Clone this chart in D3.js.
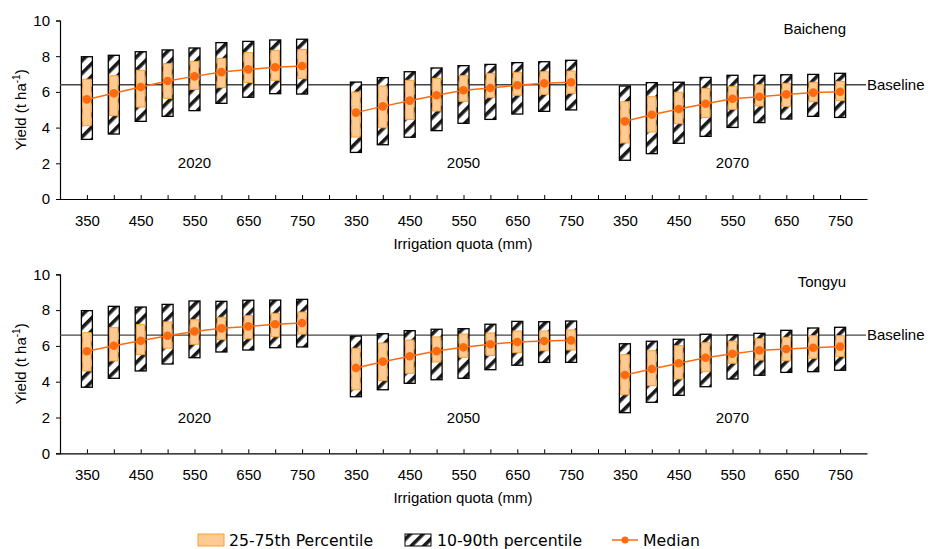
<!DOCTYPE html>
<html lang="en">
<head>
<meta charset="UTF-8">
<title>Yield vs irrigation quota</title>
<script src="https://cdn.jsdelivr.net/npm/d3@7/dist/d3.min.js"></script>
<style>
  body { margin: 0; background: #fff; }
  text { font-family: Arial, "Liberation Sans", sans-serif; fill: #000; }
  text.lg { font-family: "DejaVu Sans", Verdana, sans-serif; }
</style>
</head>
<body>
<svg id="main" width="928" height="549"></svg>
<script>
// categories
const levels = [350, 400, 450, 500, 550, 600, 650, 700, 750];
const years = ["2020", "2050", "2070"];

// Baicheng (3 groups x 9 levels)
const baichengP90 = [7.97,8.05,8.25,8.35,8.46,8.76,8.83,8.91,8.95, 6.55,6.80,7.13,7.34,7.47,7.54,7.64,7.69,7.77, 6.33,6.52,6.54,6.81,6.93,6.93,6.96,6.98,7.04];
const baichengP75 = [6.71,6.91,7.21,7.58,7.71,7.88,8.20,8.33,8.38, 5.99,6.33,6.65,6.76,6.91,7.04,7.10,7.13,7.17, 5.45,5.73,5.98,6.20,6.31,6.40,6.48,6.54,6.59];
const baichengMed = [5.58,5.92,6.27,6.61,6.87,7.11,7.26,7.38,7.45, 4.84,5.19,5.51,5.81,6.09,6.22,6.37,6.48,6.54, 4.35,4.72,5.04,5.34,5.62,5.73,5.86,5.96,6.01];
const baichengP25 = [4.11,4.67,5.15,5.64,6.14,6.24,6.52,6.65,6.74, 3.47,3.99,4.46,4.93,5.47,5.68,5.81,5.86,5.92, 3.14,3.75,4.22,4.57,5.02,5.21,5.19,5.45,5.51];
const baichengP10 = [3.34,3.64,4.35,4.63,4.95,5.36,5.70,5.90,5.88, 2.61,3.04,3.46,3.83,4.24,4.46,4.76,4.91,4.99, 2.17,2.54,3.12,3.51,4.01,4.28,4.48,4.63,4.57];
const baichengBaseline = 6.4;

// Tongyu
const tongyuP90 = [7.97,8.21,8.17,8.32,8.51,8.49,8.55,8.56,8.60, 6.55,6.68,6.85,6.93,6.96,7.21,7.37,7.35,7.39, 6.12,6.26,6.37,6.65,6.61,6.70,6.87,7.00,7.04];
const tongyuP75 = [6.74,7.02,7.19,7.34,7.46,7.60,7.69,7.82,7.89, 5.87,6.16,6.33,6.50,6.66,6.72,6.83,6.83,6.89, 5.51,5.73,6.01,6.18,6.27,6.40,6.48,6.57,6.57];
const tongyuMed = [5.70,6.01,6.29,6.57,6.81,6.98,7.09,7.21,7.28, 4.77,5.12,5.42,5.71,5.92,6.09,6.22,6.27,6.31, 4.37,4.71,5.03,5.34,5.56,5.75,5.83,5.90,5.96];
const tongyuP25 = [4.60,5.16,5.51,5.87,6.09,6.35,6.40,6.51,6.66, 3.55,4.06,4.47,5.10,5.36,5.47,5.62,5.73,5.77, 3.27,3.78,4.15,4.56,5.03,5.21,5.17,5.31,5.40];
const tongyuP10 = [3.69,4.19,4.60,4.99,5.34,5.66,5.77,5.90,5.94, 3.16,3.55,3.91,4.11,4.19,4.67,4.92,5.08,5.08, 2.27,2.85,3.24,3.72,4.15,4.36,4.52,4.56,4.64];
const tongyuBaseline = 6.6;

const yTicks = [0, 2, 4, 6, 8, 10];

const panels = [
  { site: "Baicheng", p10: baichengP10, p25: baichengP25, med: baichengMed, p75: baichengP75, p90: baichengP90, base: baichengBaseline, top: 20.5, bottom: 199 },
  { site: "Tongyu", p10: tongyuP10, p25: tongyuP25, med: tongyuMed, p75: tongyuP75, p90: tongyuP90, base: tongyuBaseline, top: 274.3, bottom: 453.3 }
];

const svg = d3.select("#main");
const orange = "#ff6a0e";

// hatch pattern
const defs = svg.append("defs");
defs.append("pattern")
  .attr("id", "hatch")
  .attr("patternUnits", "userSpaceOnUse")
  .attr("width", 9).attr("height", 9)
  .attr("patternTransform", "rotate(45)")
  .call(p => {
    p.append("rect").attr("width", 9).attr("height", 9).attr("fill", "#fff");
    p.append("rect").attr("x", 0).attr("width", 3.6).attr("height", 9).attr("fill", "#1a1a1a");
  });

// slot index: group g, level i -> g*10 + i + 1
const x = d3.scaleLinear().domain([0, 30]).range([60, 867]);
const slot = (g, i) => g * 10 + i + 1;
const allSlots = d3.range(1, 30);

panels.forEach(p => {
  const y = d3.scaleLinear().domain([0, 10]).range([p.bottom, p.top]);
  const g = svg.append("g");

  // y axis
  const ya = g.append("g")
    .attr("transform", `translate(${x(0)},0)`)
    .call(d3.axisLeft(y).tickValues(yTicks).tickSize(4).tickPadding(6));
  ya.select(".domain").attr("stroke", "#000").attr("stroke-width", 1.2);
  ya.selectAll("text").attr("font-size", 15);

  // x axis: ticks at every slot, labels every other level
  const xa = g.append("g")
    .attr("transform", `translate(0,${y(0)})`)
    .call(d3.axisBottom(x).tickValues(allSlots).tickSizeInner(-4).tickSizeOuter(0).tickPadding(16)
      .tickFormat(k => {
        const i = (k % 10) - 1;
        return (i >= 0 && i % 2 === 0) ? levels[i] : "";
      }));
  xa.select(".domain").attr("stroke", "#000").attr("stroke-width", 1.2);
  xa.selectAll("text").attr("font-size", 15);

  // axis titles
  g.append("text")
    .attr("x", 463).attr("y", y(0) + 50)
    .attr("text-anchor", "middle").attr("font-size", 15)
    .text("Irrigation quota (mm)");

  const yt = g.append("text")
    .attr("transform", `translate(26,${(p.top + p.bottom) / 2}) rotate(-90)`)
    .attr("text-anchor", "middle").attr("font-size", 15);
  yt.append("tspan").text("Yield (t ha");
  yt.append("tspan").attr("font-size", 10).attr("dy", -6).text("-1");
  yt.append("tspan").attr("dy", 6).text(")");

  // baseline
  g.append("line")
    .attr("x1", x(0)).attr("x2", x(30) - 1)
    .attr("y1", y(p.base)).attr("y2", y(p.base))
    .attr("stroke", "#444").attr("stroke-width", 1.3);
  g.append("text")
    .attr("x", 867).attr("y", y(p.base) + 5)
    .attr("font-size", 15).text("Baseline");

  // site label
  g.append("text")
    .attr("x", 846).attr("y", p.top + 13)
    .attr("text-anchor", "end").attr("font-size", 15)
    .text(p.site);

  // year labels
  years.forEach((yr, gi) => {
    g.append("text")
      .attr("x", x(slot(gi, 4))).attr("y", y(2) + 5)
      .attr("text-anchor", "middle").attr("font-size", 15)
      .text(yr);
  });

  const rows = [];
  years.forEach((yr, gi) => levels.forEach((lv, i) => {
    const j = gi * 9 + i;
    rows.push({ g: gi, k: slot(gi, i), p10: p.p10[j], p25: p.p25[j], med: p.med[j], p75: p.p75[j], p90: p.p90[j] });
  }));

  // 10-90 boxes
  g.selectAll(".outer").data(rows).join("rect")
    .attr("x", d => x(d.k) - 5.5).attr("width", 11)
    .attr("y", d => y(d.p90)).attr("height", d => y(d.p10) - y(d.p90))
    .attr("fill", "url(#hatch)").attr("stroke", "#000").attr("stroke-width", 1.3);

  // 25-75 boxes
  g.selectAll(".inner").data(rows).join("rect")
    .attr("x", d => x(d.k) - 4.2).attr("width", 8.4)
    .attr("y", d => y(d.p75)).attr("height", d => y(d.p25) - y(d.p75))
    .attr("fill", "#ffca94").attr("stroke", "#f7a134").attr("stroke-width", 1);

  // median lines per group
  const line = d3.line().x(d => x(d.k)).y(d => y(d.med));
  years.forEach((yr, gi) => {
    g.append("path")
      .datum(rows.filter(r => r.g === gi))
      .attr("d", line)
      .attr("fill", "none").attr("stroke", orange).attr("stroke-width", 1.5);
  });
  g.selectAll(".dot").data(rows).join("circle")
    .attr("cx", d => x(d.k)).attr("cy", d => y(d.med)).attr("r", 4.3)
    .attr("fill", orange);
});

// legend
const lg = svg.append("g");
lg.append("rect").attr("x", 198).attr("y", 534).attr("width", 26).attr("height", 12)
  .attr("fill", "#ffca94").attr("stroke", "#f7a134");
lg.append("text").attr("class", "lg").attr("x", 229).attr("y", 545.5).attr("font-size", 15.7)
  .text("25-75th Percentile");
lg.append("rect").attr("x", 405).attr("y", 534).attr("width", 26).attr("height", 12)
  .attr("fill", "url(#hatch)").attr("stroke", "#000");
lg.append("text").attr("class", "lg").attr("x", 437).attr("y", 545.5).attr("font-size", 15.7)
  .text("10-90th percentile");
lg.append("line").attr("x1", 612).attr("x2", 638).attr("y1", 540).attr("y2", 540)
  .attr("stroke", orange).attr("stroke-width", 1.5);
lg.append("circle").attr("cx", 625).attr("cy", 540).attr("r", 3.5).attr("fill", orange);
lg.append("text").attr("class", "lg").attr("x", 643).attr("y", 545.5).attr("font-size", 15.7)
  .text("Median");
</script>
</body>
</html>
